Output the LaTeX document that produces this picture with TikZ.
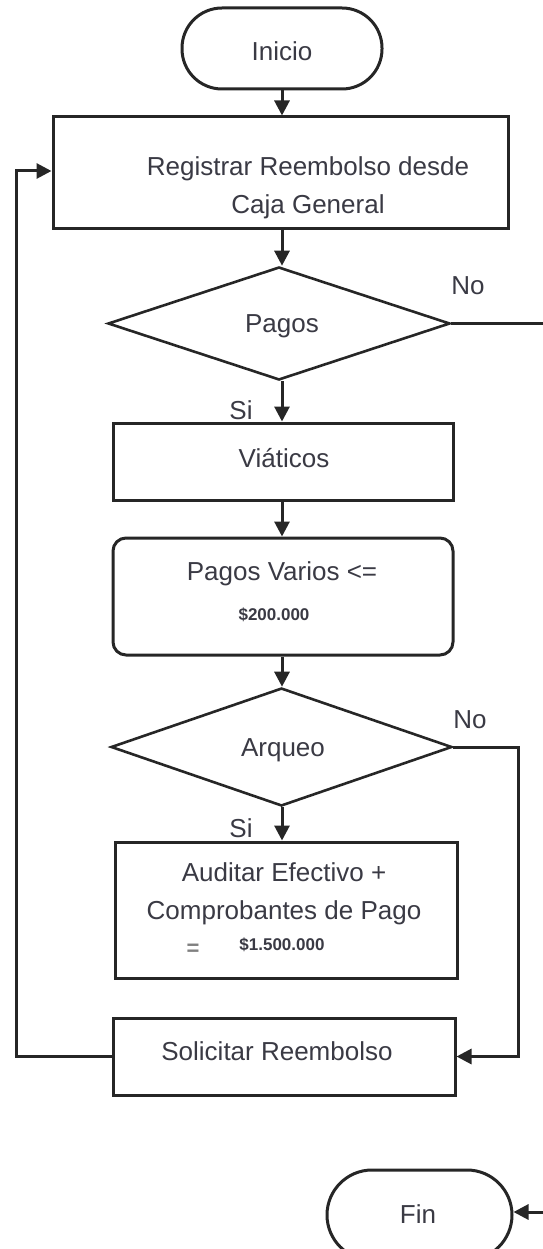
\documentclass[tikz,border=0pt]{standalone}
\usepackage{fontspec}
\setmainfont{Liberation Sans}
\usetikzlibrary{shapes.geometric,arrows.meta}
\definecolor{linec}{HTML}{262626}
\definecolor{txtc}{HTML}{3A3A44}
\begin{document}
\begin{tikzpicture}[x=1pt,y=-1pt,
  shapebox/.style={draw=linec, line width=3pt, rectangle, inner sep=0pt, fill=white},
  terminal/.style={shapebox, rounded corners=#1},
  decision/.style={draw=linec, line width=2.6pt, diamond, inner sep=0pt, fill=white},
  txt/.style={text=txtc, font=\fontsize{26}{38}\selectfont, align=center, inner sep=0pt},
  amount/.style={text=txtc, font=\bfseries\fontsize{17}{20}\selectfont, inner sep=0pt},
  conn/.style={draw=linec, line width=3pt},
  arr/.style={conn, -{Triangle[length=15pt,width=15pt]}}
]
\useasboundingbox (0,0) rectangle (542,1249);

% rails for the side connectors
\coordinate (leftrail) at (16,0);
\coordinate (rightrail) at (518,0);
\coordinate (pagosout) at (546,323.5);
\coordinate (finin) at (546,1212);

% shapes
\node[terminal=40pt, minimum width=200pt, minimum height=81pt] (inicio) at (282,48.5) {};
\node[txt] (iniciotxt) at (282,51) {Inicio};

\node[shapebox, minimum width=455pt, minimum height=112pt] (reg) at (280.5,173) {};
\node[txt] (regtxt) at (308,188) {Registrar Reembolso desde\\Caja General};

\node[decision, minimum width=342pt, minimum height=113pt] (pagos) at (279,323.5) {};
\node[txt] (pagostxt) at (282,326) {Pagos};

\node[shapebox, minimum width=340pt, minimum height=77pt] (viaticos) at (283,461.5) {};
\node[txt] (viaticostxt) at (284,458) {Viáticos};

\node[terminal=13pt, minimum width=340pt, minimum height=117pt] (varios) at (283,596.5) {};
\node[txt] (variostxt) at (282,574) {Pagos Varios <=};
\node[amount] (variosamt) at (274,615) {\$200.000};

\node[decision, minimum width=341pt, minimum height=118pt] (arqueo) at (281.5,747) {};
\node[txt] (arqueotxt) at (283,750) {Arqueo};

\node[shapebox, minimum width=342pt, minimum height=136pt] (auditar) at (286,910) {};
\node[txt] (auditartxt) at (284,894) {Auditar Efectivo +\\Comprobantes de Pago};
\node[amount] (auditaramt) at (282,945) {\$1.500.000};
\node[amount, text=gray, font=\bfseries\fontsize{22}{22}\selectfont] (auditarmark) at (193,950) {=};

\node[shapebox, minimum width=342pt, minimum height=77pt] (solic) at (284,1056.5) {};
\node[txt] (solictxt) at (277,1051) {Solicitar Reembolso};

\node[terminal=45pt, minimum width=185pt, minimum height=90pt] (fin) at (419.5,1215) {};
\node[txt] (fintxt) at (418,1214) {Fin};

% branch labels
\node[txt] (pagosno) at (468,286) {No};
\node[txt] (pagossi) at (241,410) {Si};
\node[txt] (arqueono) at (470,720) {No};
\node[txt] (arqueosi) at (241,828) {Si};

% main flow
\draw[arr] (inicio.south) -- (inicio.south |- reg.north);
\draw[arr] (inicio.south |- reg.south) -- (inicio.south |- pagos.north);
\draw[arr] (inicio.south |- pagos.south) -- (inicio.south |- viaticos.north);
\draw[arr] (inicio.south |- viaticos.south) -- (inicio.south |- varios.north);
\draw[arr] (inicio.south |- varios.south) -- (inicio.south |- arqueo.north);
\draw[arr] (inicio.south |- arqueo.south) -- (inicio.south |- auditar.north);

% side branches
\draw[conn] (pagos.east) -- (pagosout);
\draw[arr] (arqueo.east) -- (arqueo.east -| rightrail) -- (rightrail |- solic.east) -- (solic.east);
\draw[arr] (solic.west) -- (solic.west -| leftrail) -- ([yshift=2pt]leftrail |- reg.west) -- ([yshift=2pt]reg.west);
\draw[arr] (finin) -- (finin -| fin.east);
\end{tikzpicture}
\end{document}
